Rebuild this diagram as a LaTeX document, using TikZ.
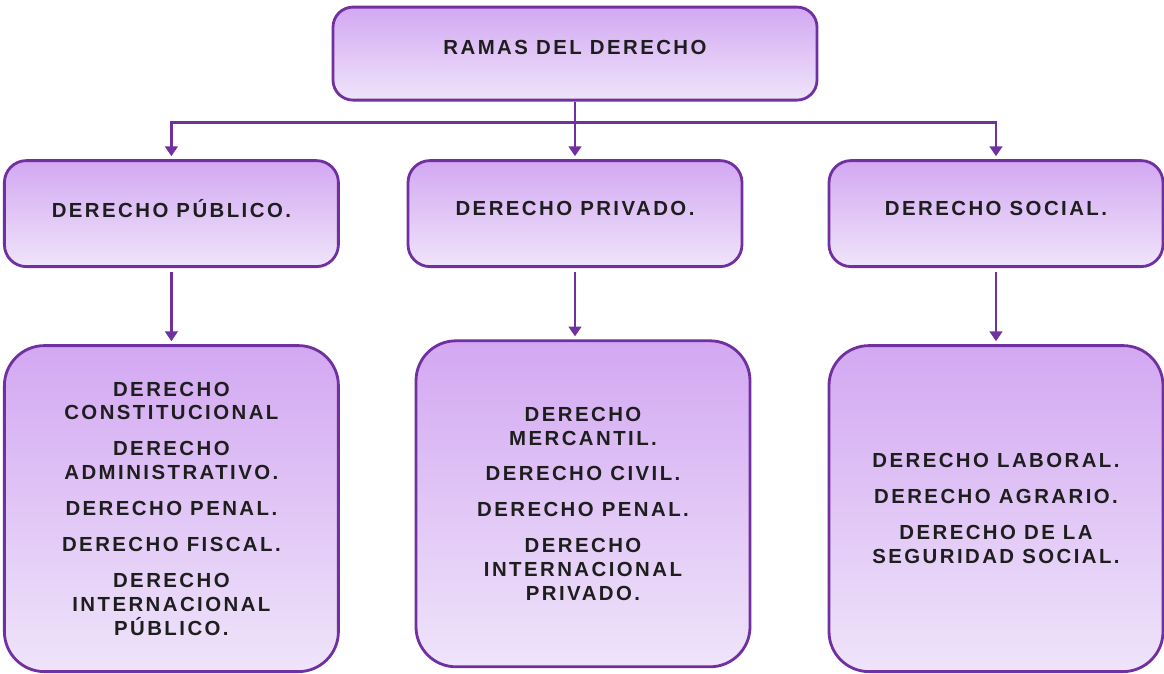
\documentclass[tikz,border=0pt]{standalone}
\usepackage{fontspec}
\setmainfont{Liberation Sans}[LetterSpace=12]
\usetikzlibrary{arrows.meta}
\definecolor{rborde}{HTML}{7030A0}
\definecolor{rarriba}{HTML}{D3A8F2}
\definecolor{rabajo}{HTML}{EFE4FA}
\definecolor{rtexto}{HTML}{1E1E1E}

\begin{document}
\begin{tikzpicture}[level distance=4cm,
level 1/.style={sibling distance=10.3cm, edge from parent path={(\tikzparentnode.south) -- ++(0,-0.525) -| (\tikzchildnode.north)}},
level 2/.style={level distance=7.375cm, edge from parent path={(\tikzparentnode.south) -- (\tikzparentnode.south |- \tikzchildnode.north)}, edge from parent/.append style={shorten <=0.1cm}},
edge from parent/.style={draw=rborde, line width=2pt, -{Triangle[width=9pt,length=7pt]}, shorten >=0.075cm},
every node/.style={draw=rborde, line width=2pt, top color=rarriba, bottom color=rabajo, align=center, text=rtexto, font=\fontsize{14.5}{17}\selectfont\bfseries},
raiz/.style={minimum width=12.1cm, minimum height=2.325cm, rounded corners=0.5cm, text depth=0.33cm},
rama/.style={minimum width=8.35cm, minimum height=2.65cm, rounded corners=0.55cm, text depth=0.25cm},
hoja/.style={minimum width=8.35cm, minimum height=8.15cm, rounded corners=1cm}]
\useasboundingbox (0,0) rectangle (29.1,-16.825);
\node[raiz] (raiz) at (14.375,-1.34) {RAMAS DEL DERECHO}
child[xshift=0.21cm] { node[rama] (publico) {DERECHO PÚBLICO.}
  child { node[hoja] (hpublico) {DERECHO\\CONSTITUCIONAL\\[0.3cm]DERECHO\\ADMINISTRATIVO.\\[0.3cm]DERECHO PENAL.\\[0.3cm]DERECHO FISCAL.\\[0.3cm]DERECHO\\INTERNACIONAL\\PÚBLICO.} } }
child { node[rama] (privado) {DERECHO PRIVADO.}
  child[xshift=0.2cm,yshift=0.12cm] { node[hoja] (hprivado) {DERECHO\\MERCANTIL.\\[0.3cm]DERECHO CIVIL.\\[0.3cm]DERECHO PENAL.\\[0.3cm]DERECHO\\INTERNACIONAL\\PRIVADO.} } }
child[xshift=0.225cm] { node[rama] (social) {DERECHO SOCIAL.}
  child { node[hoja] (hsocial) {DERECHO LABORAL.\\[0.3cm]DERECHO AGRARIO.\\[0.3cm]DERECHO DE LA\\SEGURIDAD SOCIAL.} } };
\end{tikzpicture}
\end{document}
